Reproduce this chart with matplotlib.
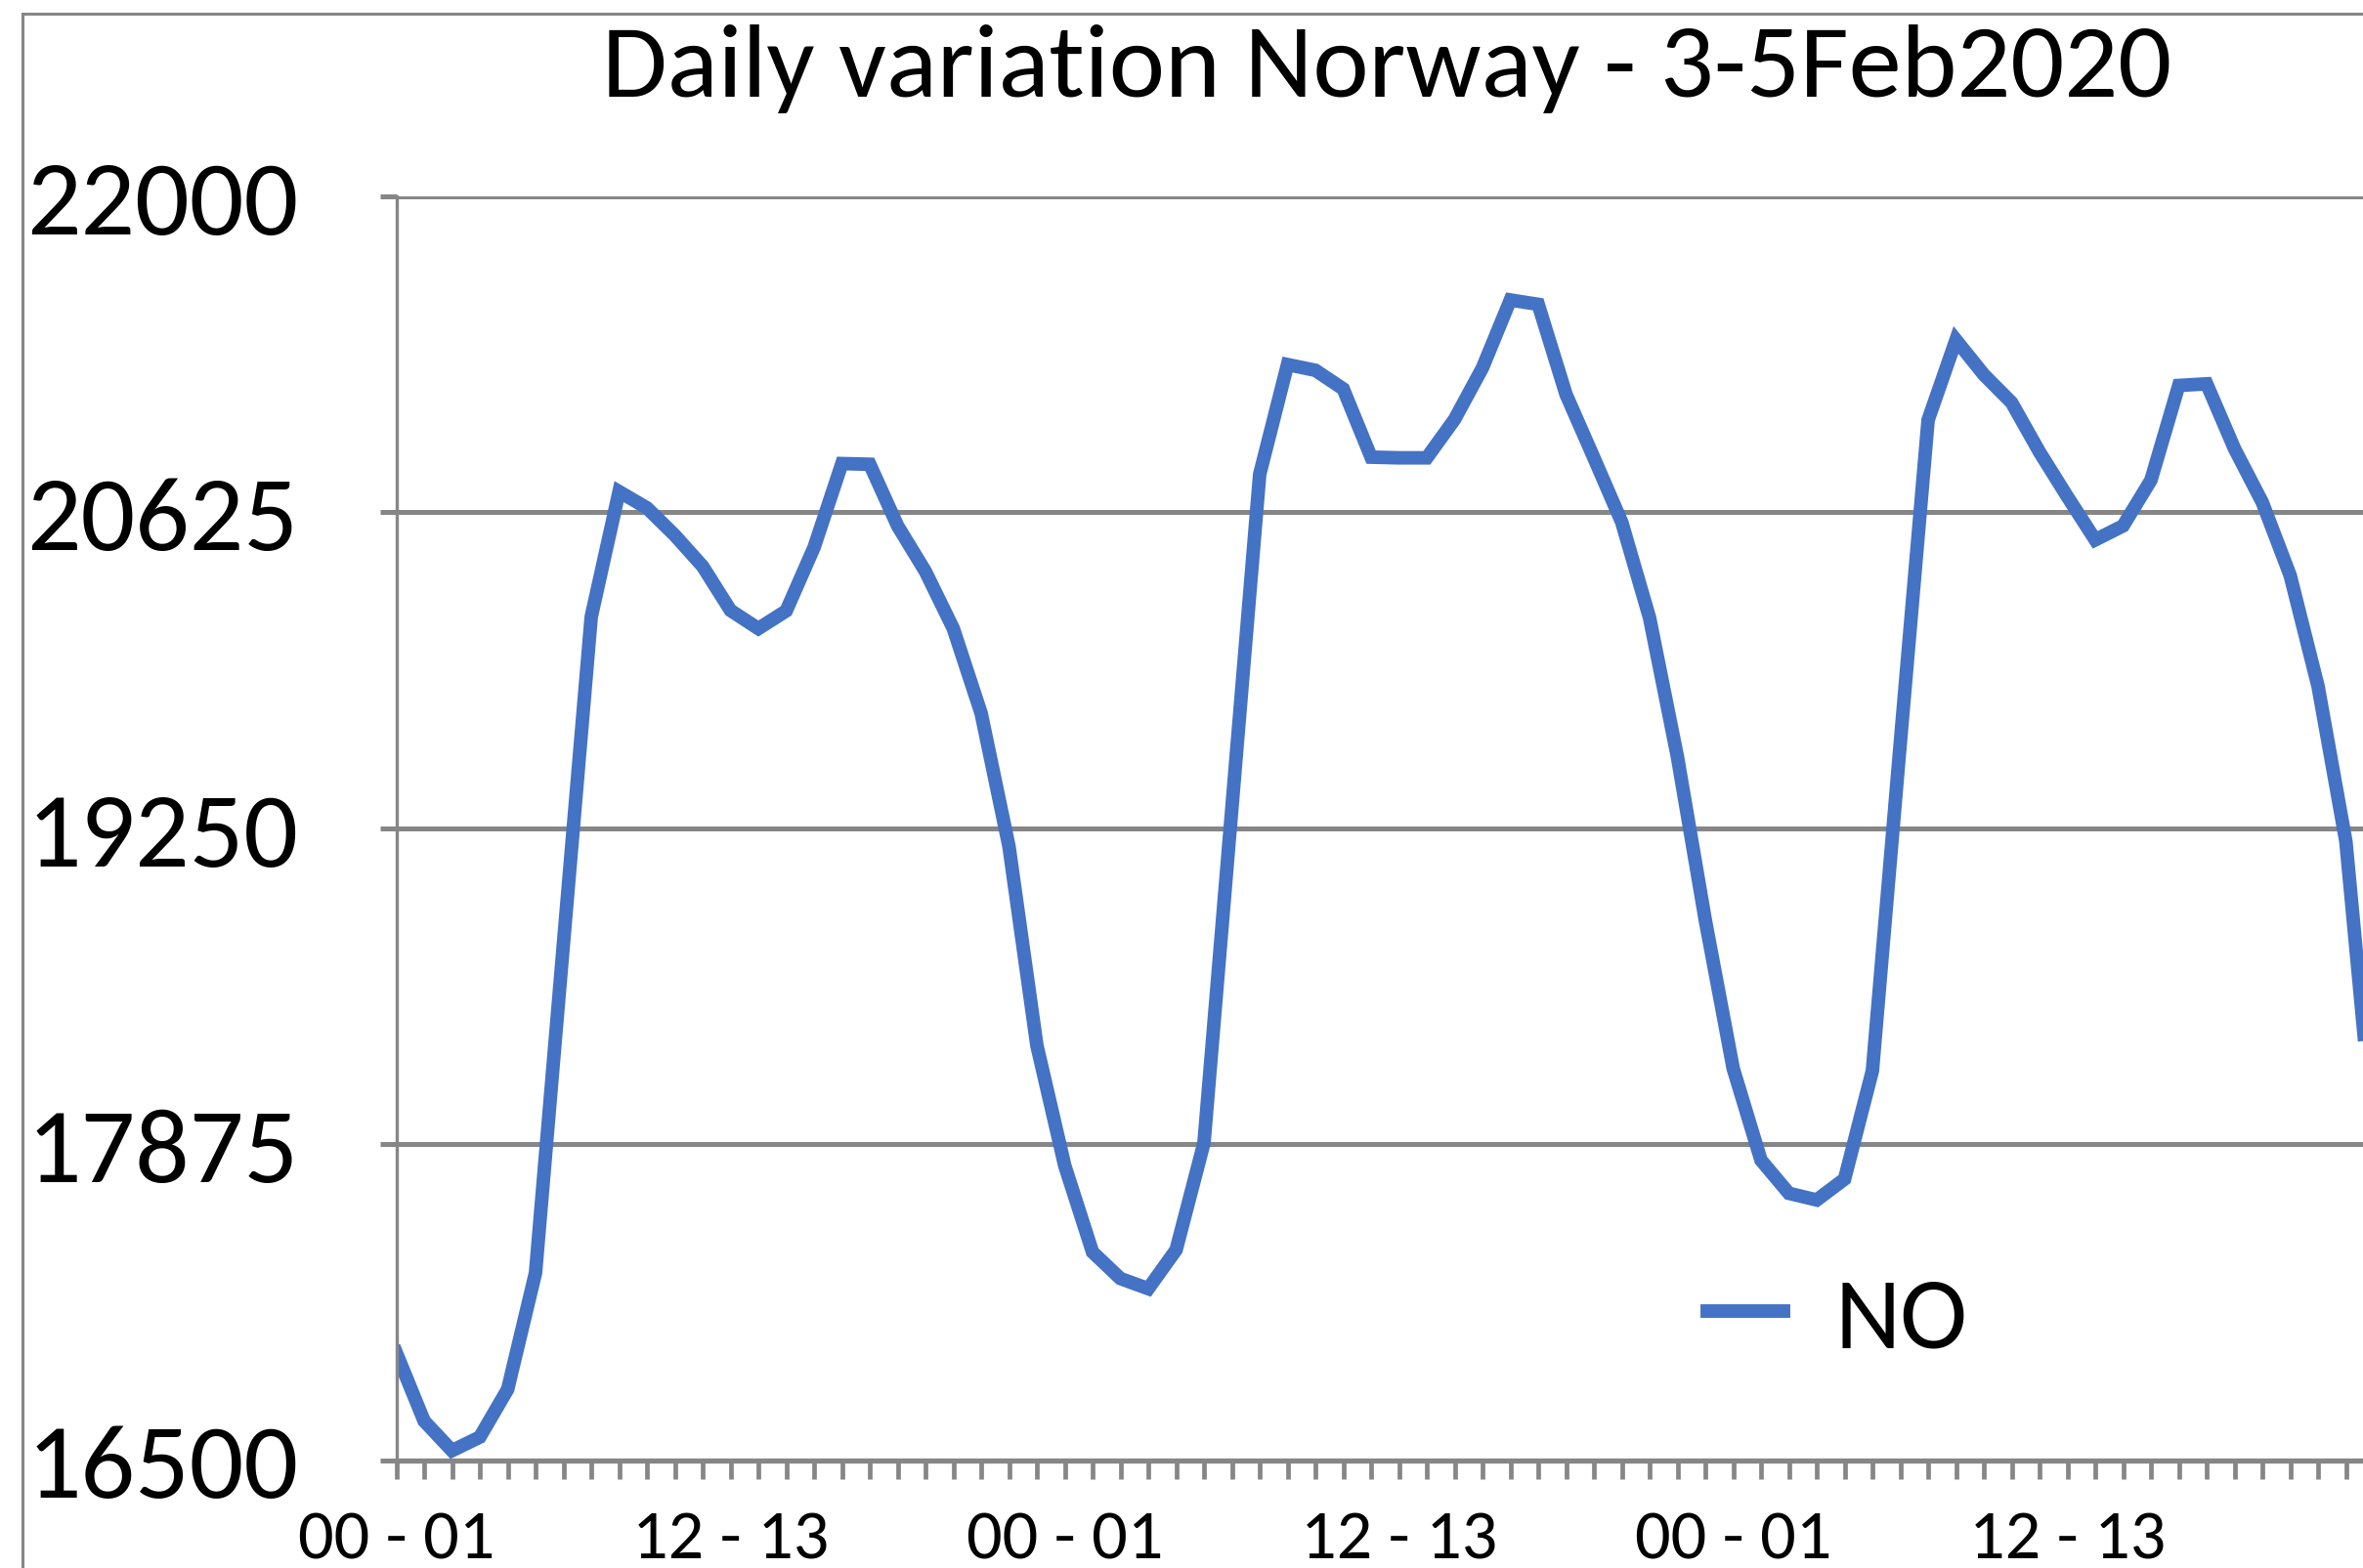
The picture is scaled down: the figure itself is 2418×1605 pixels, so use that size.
import matplotlib
matplotlib.use("Agg")
from matplotlib import pyplot as plt
from matplotlib.patches import Rectangle

plt.rcParams['font.family'] = ['Carlito', 'Liberation Sans Narrow', 'DejaVu Sans']

# dados (consumo horário NO, 3-5 fev 2020)
hours = ["%02d - %02d" % (h, h + 1) for h in range(24)] * 3
consumo_no = [16967, 16670, 16541, 16600, 16808, 17315, 18745, 20170,
              20715, 20644, 20525, 20390, 20198, 20119, 20196, 20472,
              20837, 20834, 20566, 20367, 20119, 19750, 19170, 18305,
              17782, 17405, 17290, 17246, 17415, 17880, 19335, 20790,
              21268, 21243, 21162, 20865, 20862, 20862, 21030, 21254,
              21549, 21530, 21138, 20862, 20582, 20165, 19560, 18850,
              18205, 17805, 17661, 17632, 17723, 18195, 19620, 21027,
              21375, 21224, 21102, 20887, 20693, 20505, 20566, 20765,
              21177, 21184, 20902, 20668, 20350, 19868, 19192, 17900]
y_ticks = [16500, 17875, 19250, 20625, 22000]
serie = "NO"
titulo = "Daily variation Norway - 3-5Feb2020"

W, H = 2418, 1606
cinza = "#868686"
azul = "#4472C4"

fig = plt.figure(figsize=(W / 100, H / 100), dpi=100)
fig.patch.set_facecolor("white")

# moldura externa do gráfico (cortada à direita e em baixo)
fig.patches.append(Rectangle((23 / W, -0.1), 1.2, 1.1 - 15 / H, transform=fig.transFigure,
                             fill=False, edgecolor=cinza, linewidth=2.2))

x0, x1 = 405.5, 405.5 + 71 * 28.5
y_top, y_bot = 202, 1495.5
ax = fig.add_axes([x0 / W, 1 - y_bot / H, (x1 - x0) / W, (y_bot - y_top) / H])

x = list(range(len(consumo_no)))
ax.plot(x, consumo_no, color=azul, linewidth=10, label=serie,
        solid_joinstyle="miter", clip_on=True)

ax.set_xlim(0, len(consumo_no) - 1)
ax.set_ylim(y_ticks[0], y_ticks[-1])
ax.set_yticks(y_ticks)
ax.set_yticklabels([str(v) for v in y_ticks])
ax.set_xticks(x)
ax.set_xticklabels([h if i % 12 == 0 else "" for i, h in enumerate(hours)])

ax.grid(axis="y", color=cinza, linewidth=3.6)
ax.set_axisbelow(True)
for s in ["top", "right"]:
    ax.spines[s].set_visible(False)
ax.spines["left"].set_color(cinza)
ax.spines["left"].set_linewidth(2.4)
ax.spines["bottom"].set_color(cinza)
ax.spines["bottom"].set_linewidth(3.8)

ax.tick_params(axis="y", length=12, width=3.6, color=cinza, pad=60, labelsize=79)
ax.tick_params(axis="x", length=14, width=3.4, color=cinza, pad=22, labelsize=52)

fig.text(1419 / W, 1 - 71 / H, titulo, ha="center", va="center", fontsize=78)

fig.legend(loc="center left", bbox_to_anchor=(1747 / W, 1 - 1351 / H),
           frameon=False, fontsize=75, handlelength=0.75, handletextpad=0.5,
           borderpad=0, borderaxespad=0)

fig.savefig("out.png", dpi=100)
